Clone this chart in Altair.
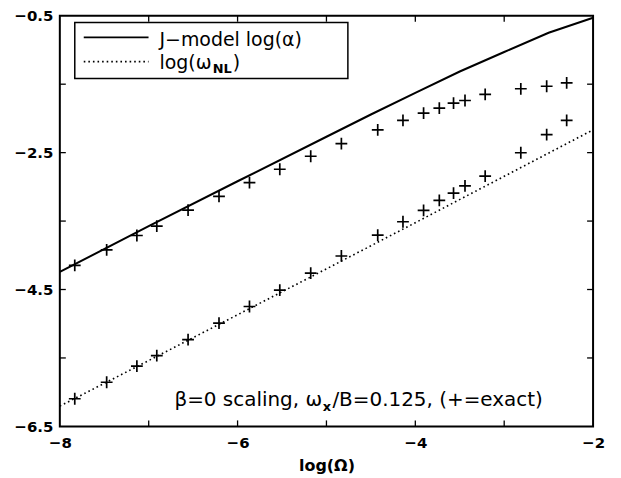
import altair as alt
import pandas as pd

# ---- data ----
log_omega = [-7.832, -7.473, -7.133, -6.909, -6.557, -6.209, -5.866, -5.525, -5.177, -4.832,
             -4.423, -4.139, -3.907, -3.730, -3.570, -3.441, -3.214, -2.813, -2.522, -2.297]
alpha_exact = [-4.148, -3.922, -3.711, -3.573, -3.340, -3.140, -2.939, -2.743, -2.553, -2.367,
               -2.167, -2.029, -1.923, -1.850, -1.777, -1.738, -1.650, -1.567, -1.530, -1.480]
wnl_exact = [-6.096, -5.855, -5.619, -5.466, -5.233, -4.990, -4.748, -4.509, -4.261, -4.010,
             -3.704, -3.510, -3.344, -3.198, -3.092, -2.987, -2.842, -2.502, -2.236, -2.029]

model_x = [-8.0, -7.0, -6.0, -5.0, -4.5, -4.0, -3.5, -3.0, -2.5, -2.0]
model_alpha = [-4.243, -3.575, -2.918, -2.268, -1.943, -1.626, -1.315, -1.030, -0.748, -0.530]

wnl_x = [-8.0, -7.0, -6.0, -5.0, -4.0, -3.0, -2.0]
wnl_y = [-6.204, -5.538, -4.869, -4.198, -3.524, -2.846, -2.167]

x_labels = [-8, -6, -4, -2]
y_labels = [-6.5, -4.5, -2.5, -0.5]
x_minor = [-7, -6, -5, -4, -3]
y_minor = [-5.5, -4.5, -3.5, -2.5, -1.5]

W, H = 535, 412
FONT = "DejaVu Sans"

xs = alt.Scale(domain=[-8, -2], nice=False, zero=False)
ys = alt.Scale(domain=[-6.5, -0.5], nice=False, zero=False)

xaxis = alt.Axis(values=x_labels, format="d", title="log(Ω)", grid=False, domain=False,
                 ticks=False, labelFlush=False, labelFont=FONT, labelFontWeight="bold",
                 labelFontSize=15, labelColor="black", labelPadding=9, titleFont=FONT,
                 titleFontWeight="bold", titleFontSize=16, titleColor="black", titlePadding=7)
yaxis = alt.Axis(values=y_labels, format=".1f", title=None, grid=False, domain=False,
                 ticks=False, labelFlush=False, labelFont=FONT, labelFontWeight="bold",
                 labelFontSize=15, labelColor="black", labelPadding=7)

model_df = pd.DataFrame({"x": model_x, "y": model_alpha})
wnl_df = pd.DataFrame({"x": wnl_x, "y": wnl_y})
exact_df = pd.DataFrame({"x": log_omega, "a": alpha_exact, "w": wnl_exact})

plus = "M-1,0L1,0M0,-1L0,1"

solid = alt.Chart(model_df).mark_line(color="black", strokeWidth=2).encode(
    x=alt.X("x:Q", scale=xs, axis=xaxis), y=alt.Y("y:Q", scale=ys, axis=yaxis))
dotted = alt.Chart(wnl_df).mark_line(color="black", strokeWidth=1.6, strokeDash=[1.6, 3]).encode(
    x=alt.X("x:Q", scale=xs), y=alt.Y("y:Q", scale=ys))
pts_a = alt.Chart(exact_df).mark_point(shape=plus, size=140, filled=False, color="black",
                                       strokeWidth=1.7, opacity=1).encode(
    x=alt.X("x:Q", scale=xs), y=alt.Y("a:Q", scale=ys))
pts_w = alt.Chart(exact_df).mark_point(shape=plus, size=140, filled=False, color="black",
                                       strokeWidth=1.7, opacity=1).encode(
    x=alt.X("x:Q", scale=xs), y=alt.Y("w:Q", scale=ys))

# inward ticks on all four sides
ydf = pd.DataFrame({"v": y_minor})
xdf = pd.DataFrame({"v": x_minor})
tk = dict(color="black", strokeWidth=1.3)
tick_l = alt.Chart(ydf).mark_rule(**tk).encode(y=alt.Y("v:Q", scale=ys), x=alt.value(0), x2=alt.value(6))
tick_r = alt.Chart(ydf).mark_rule(**tk).encode(y=alt.Y("v:Q", scale=ys), x=alt.value(W - 6), x2=alt.value(W))
tick_b = alt.Chart(xdf).mark_rule(**tk).encode(x=alt.X("v:Q", scale=xs), y=alt.value(H - 6), y2=alt.value(H))
tick_t = alt.Chart(xdf).mark_rule(**tk).encode(x=alt.X("v:Q", scale=xs), y=alt.value(0), y2=alt.value(6))

one = pd.DataFrame({"k": [0]})

# legend
leg_box = alt.Chart(one).mark_rect(fill="white", fillOpacity=0, stroke="black", strokeWidth=1.5).encode(
    x=alt.value(15), x2=alt.value(289), y=alt.value(6.7), y2=alt.value(63))
leg_l1 = alt.Chart(one).mark_rule(color="black", strokeWidth=1.6).encode(
    x=alt.value(24), x2=alt.value(89), y=alt.value(21.7))
leg_l2 = alt.Chart(one).mark_rule(color="black", strokeWidth=1.6, strokeDash=[1.6, 3]).encode(
    x=alt.value(24), x2=alt.value(89), y=alt.value(46))


def txt(s, x, y, size, weight="normal"):
    return alt.Chart(one).mark_text(text=s, align="left", baseline="alphabetic", font=FONT,
                                    fontSize=size, fontWeight=weight, color="black").encode(
        x=alt.value(x), y=alt.value(y))


LS = 19
leg_t1 = txt("J−model log(α)", 100, 30, LS)
w1 = 2.755 * LS
leg_t2a = txt("log(ω", 100, 53, LS)
leg_t2b = txt("NL", 100 + w1 + 1, 57.5, 13, "bold")
leg_t2c = txt(")", 100 + w1 + 1 + 19.2 + 1, 53, LS)

AS = 20
ax0 = 115
p1 = 7.414 * AS
ann1 = txt("β=0 scaling, ω", ax0, 392, AS)
ann2 = txt("x", ax0 + p1 + 0.5, 397, 13, "bold")
ann3 = txt("/B=0.125, (+=exact)", ax0 + p1 + 0.5 + 9.2 + 0.5, 392, AS)

chart = alt.layer(
    solid, dotted, pts_a, pts_w, tick_l, tick_r, tick_b, tick_t,
    leg_box, leg_l1, leg_l2, leg_t1, leg_t2a, leg_t2b, leg_t2c, ann1, ann2, ann3
).properties(
    width=W, height=H,
    padding={"left": 52, "top": 7, "right": 20, "bottom": 50},
    autosize=alt.AutoSizeParams(type="none"),
    background="white",
).configure_view(stroke="black", strokeWidth=2)

chart.save("out.html", embed_options={"renderer": "svg", "actions": False})
